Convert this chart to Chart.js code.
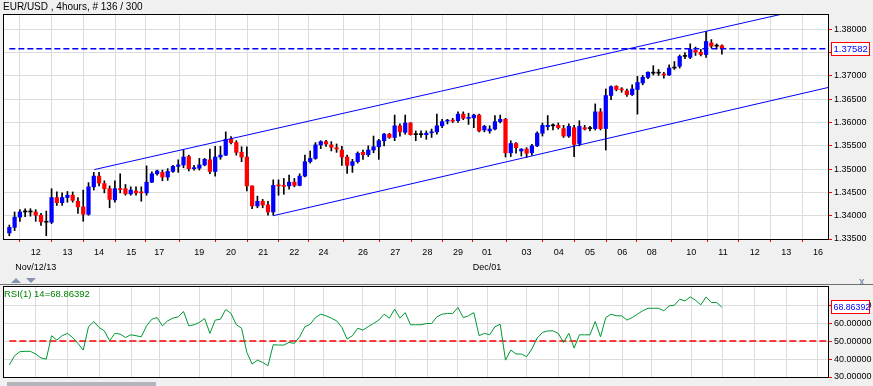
<!DOCTYPE html>
<html>
<head>
<meta charset="utf-8">
<script src="https://cdn.jsdelivr.net/npm/chart.js@4.4.0/dist/chart.umd.min.js"></script>
<style>
  html, body { margin: 0; padding: 0; background: #f0f0f0; }
  body { width: 873px; height: 386px; position: relative; overflow: hidden; font-family: "Liberation Sans", Arial, sans-serif; }
  #title { position: absolute; left: 3px; top: 0; font-size: 10px; line-height: 13px; color: #000; white-space: nowrap; }
  #mainWrap { position: absolute; left: 0; top: 0; width: 873px; height: 283px; }
  #rsiWrap { position: absolute; left: 0; top: 283px; width: 873px; height: 103px; }
  #rsiTitle { position: absolute; left: 4px; top: 288px; font-size: 9.5px; line-height: 11px; color: #008000; white-space: nowrap; }
  #sep { position: absolute; left: 0; top: 284px; width: 873px; height: 1px; background: #707070; }
  .tri { position: absolute; width: 0; height: 0; border-left: 5px solid transparent; border-right: 5px solid transparent; }
  #up { left: 11px; top: 278px; border-bottom: 5px solid #8593b0; }
  #down { left: 26px; top: 278px; border-top: 5px solid #8593b0; }
  #close { position: absolute; left: 859px; top: 276px; font-size: 10px; font-weight: bold; color: #8593b0; }
  #scroll { position: absolute; left: 7px; top: 382px; width: 149px; height: 4px; background: #b4b4bc; }
</style>
</head>
<body>
<div id="mainWrap"><canvas id="mainChart" width="873" height="283"></canvas></div>
<div id="title">EUR/USD , 4hours, # 136 / 300</div>
<div class="tri" id="up"></div>
<div class="tri" id="down"></div>
<div id="close">x</div>
<div id="sep"></div>
<div id="rsiWrap"><canvas id="rsiChart" width="873" height="103"></canvas></div>
<div id="rsiTitle">RSI(1) 14=68.86392</div>
<div id="scroll"></div>
<script>
// 4-hour EUR/USD bars
const candleOpen = [1.3363,1.3375,1.3397,1.3408,1.3408,1.3408,1.3401,1.3386,1.3386,1.3439,1.3428,1.3439,1.3444,1.3431,1.3419,1.3403,1.3462,1.3485,1.3469,1.3458,
  1.3434,1.3458,1.3458,1.3447,1.3453,1.3451,1.3449,1.3472,1.3490,1.3493,1.3483,1.3495,1.3506,1.3509,1.3527,1.3501,1.3502,1.3509,1.3520,1.3495,
  1.3526,1.3530,1.3564,1.3557,1.3536,1.3526,1.3464,1.3421,1.3431,1.3423,1.3408,1.3465,1.3465,1.3464,1.3472,1.3465,1.3485,1.3516,1.3523,1.3552,
  1.3559,1.3552,1.3546,1.3541,1.3526,1.3508,1.3516,1.3536,1.3531,1.3541,1.3548,1.3561,1.3575,1.3568,1.3593,1.3579,1.3599,1.3574,1.3574,1.3574,
  1.3578,1.3580,1.3593,1.3603,1.3605,1.3604,1.3618,1.3609,1.3610,1.3616,1.3584,1.3582,1.3586,1.3602,1.3607,1.3535,1.3555,1.3539,1.3543,1.3535,
  1.3550,1.3577,1.3591,1.3593,1.3594,1.3587,1.3571,1.3589,1.3555,1.3589,1.3587,1.3587,1.3623,1.3587,1.3658,1.3678,1.3672,1.3668,1.3660,1.3671,
  1.3685,1.3697,1.3706,1.3706,1.3704,1.3702,1.3717,1.3721,1.3742,1.3740,1.3755,1.3751,1.3746,1.3771,1.3764,1.3765];
const candleHigh = [1.3380,1.3408,1.3413,1.3415,1.3415,1.3413,1.3405,1.3410,1.3458,1.3451,1.3449,1.3452,1.3451,1.3439,1.3455,1.3471,1.3493,1.3493,1.3475,1.3464,
  1.3475,1.3490,1.3467,1.3462,1.3462,1.3462,1.3507,1.3494,1.3498,1.3498,1.3501,1.3508,1.3520,1.3541,1.3530,1.3508,1.3523,1.3523,1.3543,1.3549,
  1.3549,1.3580,1.3570,1.3561,1.3548,1.3548,1.3464,1.3442,1.3435,1.3431,1.3477,1.3477,1.3480,1.3487,1.3480,1.3490,1.3530,1.3539,1.3557,1.3561,
  1.3562,1.3559,1.3554,1.3549,1.3530,1.3521,1.3537,1.3541,1.3550,1.3571,1.3564,1.3577,1.3577,1.3616,1.3597,1.3616,1.3600,1.3582,1.3582,1.3582,
  1.3586,1.3618,1.3607,1.3607,1.3609,1.3623,1.3623,1.3620,1.3618,1.3618,1.3594,1.3593,1.3615,1.3616,1.3609,1.3561,1.3557,1.3544,1.3546,1.3553,
  1.3580,1.3599,1.3615,1.3597,1.3599,1.3594,1.3597,1.3594,1.3604,1.3594,1.3592,1.3640,1.3630,1.3672,1.3679,1.3679,1.3675,1.3672,1.3681,1.3699,
  1.3701,1.3709,1.3722,1.3714,1.3708,1.3724,1.3731,1.3745,1.3750,1.3769,1.3762,1.3757,1.3796,1.3778,1.3769,1.3767];
const candleLow = [1.3357,1.3368,1.3388,1.3398,1.3399,1.3388,1.3379,1.3357,1.3383,1.3422,1.3422,1.3429,1.3429,1.3405,1.3388,1.3401,1.3455,1.3464,1.3449,1.3417,
  1.3429,1.3449,1.3444,1.3444,1.3444,1.3431,1.3444,1.3471,1.3487,1.3475,1.3476,1.3493,1.3493,1.3503,1.3496,1.3498,1.3498,1.3507,1.3490,1.3485,
  1.3521,1.3529,1.3554,1.3530,1.3516,1.3453,1.3415,1.3417,1.3417,1.3401,1.3401,1.3444,1.3446,1.3457,1.3462,1.3464,1.3483,1.3513,1.3521,1.3544,
  1.3549,1.3539,1.3536,1.3508,1.3491,1.3493,1.3513,1.3521,1.3527,1.3535,1.3521,1.3550,1.3566,1.3561,1.3571,1.3575,1.3573,1.3561,1.3568,1.3564,
  1.3568,1.3575,1.3589,1.3597,1.3600,1.3600,1.3606,1.3596,1.3589,1.3580,1.3580,1.3577,1.3584,1.3599,1.3526,1.3527,1.3534,1.3528,1.3525,1.3530,
  1.3548,1.3571,1.3584,1.3584,1.3586,1.3568,1.3568,1.3527,1.3550,1.3584,1.3582,1.3584,1.3584,1.3541,1.3649,1.3668,1.3665,1.3656,1.3658,1.3618,
  1.3681,1.3694,1.3702,1.3701,1.3695,1.3701,1.3714,1.3717,1.3737,1.3737,1.3744,1.3743,1.3740,1.3760,1.3758,1.3747];
const candleClose = [1.3375,1.3397,1.3408,1.3408,1.3408,1.3401,1.3387,1.3386,1.3439,1.3428,1.3439,1.3444,1.3433,1.3419,1.3403,1.3462,1.3485,1.3470,1.3458,1.3435,
  1.3458,1.3456,1.3447,1.3455,1.3449,1.3449,1.3472,1.3490,1.3496,1.3483,1.3495,1.3506,1.3509,1.3526,1.3501,1.3503,1.3509,1.3521,1.3495,1.3526,
  1.3530,1.3564,1.3557,1.3536,1.3526,1.3464,1.3421,1.3431,1.3423,1.3408,1.3465,1.3464,1.3463,1.3472,1.3465,1.3485,1.3516,1.3523,1.3552,1.3559,
  1.3554,1.3547,1.3543,1.3526,1.3508,1.3516,1.3534,1.3531,1.3541,1.3548,1.3561,1.3575,1.3568,1.3593,1.3580,1.3599,1.3574,1.3574,1.3574,1.3577,
  1.3580,1.3593,1.3602,1.3604,1.3603,1.3618,1.3609,1.3610,1.3616,1.3582,1.3592,1.3586,1.3602,1.3607,1.3535,1.3555,1.3546,1.3543,1.3534,1.3550,
  1.3577,1.3594,1.3594,1.3593,1.3589,1.3571,1.3592,1.3553,1.3592,1.3586,1.3587,1.3623,1.3587,1.3658,1.3677,1.3671,1.3670,1.3660,1.3672,1.3686,
  1.3697,1.3708,1.3706,1.3706,1.3702,1.3717,1.3717,1.3742,1.3742,1.3757,1.3751,1.3746,1.3774,1.3764,1.3764,1.37582];
// RSI(14) per bar
const rsiValues = [36.7,41.9,44.1,44.3,44.3,42.8,40.6,40.0,53.0,50.6,53.0,54.3,52.0,48.7,45.0,58.0,60.9,57.6,55.7,50.2,
  54.3,53.9,52.0,53.5,53.0,52.4,58.5,62.2,63.1,58.5,61.3,62.8,63.5,66.5,58.5,59.1,60.4,62.6,54.3,61.7,
  62.2,67.6,65.4,59.1,57.2,43.7,37.2,39.4,38.1,36.3,48.0,47.8,47.8,49.3,48.7,52.4,58.0,59.4,63.1,65.0,
  64.1,62.8,61.3,57.6,51.1,53.0,57.2,56.1,58.1,59.8,61.7,65.0,62.8,67.8,62.8,65.9,59.1,59.1,59.1,59.8,
  59.8,63.5,65.0,65.4,65.4,68.7,63.1,64.1,65.9,53.0,54.3,53.5,58.0,59.4,39.4,45.0,42.8,42.8,41.3,45.6,
  51.7,54.8,55.7,55.7,54.3,49.3,54.3,46.1,53.5,53.5,53.5,60.9,52.4,63.1,65.0,64.1,64.1,61.7,63.1,65.0,
  66.9,68.3,68.3,68.3,66.9,69.6,70.0,73.3,72.4,74.6,72.8,70.2,74.6,71.5,71.5,68.86392];

// day ticks: label and bar position where the day starts
const dayLabels = ['12','13','14','15','17','19','20','21','22','24','26','27','28','29','01','03','04','05','06','08','10','11','12','13','16'];
const dayStartBar = [5,11,17,23.1,28.4,36,42,48.1,54,59.5,67,73.1,79.2,85,90.5,98,104.1,110,116.1,121.7,129.2,135.2,141.2,147.2,153.2];
const monthLabels = { 0: 'Nov/12/13', 14: 'Dec/01' };

const priceTicks = [1.335, 1.340, 1.345, 1.350, 1.355, 1.360, 1.365, 1.370, 1.375, 1.380];
const rsiTicks = [30, 40, 50, 60, 70];
const lastPrice = 1.37582;
const lastRsi = 68.86392;
const rsiMid = 50;

// channel lines as [bar, price] anchors
const upperChannel = [[16.1, 1.3499], [150, 1.3842]];
const lowerChannel = [[50, 1.3400], [160, 1.3688]];

const xMin = -1.2, xMax = 155.1;
const FONT = { family: 'Liberation Sans', size: 9 };

const bars = candleOpen.map((o, i) => i);
const bodyColors = bars.map(i => candleClose[i] > candleOpen[i] ? '#0000ff' : (candleClose[i] < candleOpen[i] ? '#ff0000' : '#000000'));

const plotFrame = {
    id: 'plotFrame',
    beforeDraw(chart) {
        const a = chart.chartArea, ctx = chart.ctx;
        ctx.save();
        ctx.fillStyle = '#ffffff';
        ctx.fillRect(a.left, a.top, a.right - a.left, a.bottom - a.top);
        ctx.restore();
    },
    afterDraw(chart) {
        const a = chart.chartArea, ctx = chart.ctx;
        ctx.save();
        ctx.strokeStyle = '#000000';
        ctx.lineWidth = 1;
        ctx.strokeRect(a.left + 0.5, a.top + 0.5, a.right - a.left, a.bottom - a.top);
        // value box on the right axis
        const opts = chart.options.plugins.plotFrame;
        if (opts && opts.value !== undefined) {
            const y = Math.round(chart.scales.y.getPixelForValue(opts.value));
            ctx.fillStyle = '#ffffff';
            ctx.fillRect(831, y - 7, 39, 14);
            ctx.strokeStyle = '#ff0000';
            ctx.strokeRect(831.5, y - 6.5, 38, 13);
            ctx.fillStyle = '#0000ff';
            ctx.font = opts.fontSize + 'px "Liberation Sans"';
            ctx.textBaseline = 'middle';
            ctx.fillText(opts.text, 833.5, y + 0.5);
        }
        ctx.restore();
    }
};

function xScale(showTicks) {
    return {
        type: 'linear',
        min: xMin,
        max: xMax,
        offset: false,
        border: { display: false },
        grid: { color: '#dcdcdc', tickColor: '#ff0000', tickLength: showTicks ? 3 : 0, drawTicks: showTicks },
        afterBuildTicks: s => { s.ticks = dayStartBar.map(v => ({ value: v })); },
        afterFit: s => { s.height = showTicks ? 44 : 0; },
        ticks: {
            display: showTicks,
            autoSkip: false,
            maxRotation: 0,
            padding: 3,
            color: '#000000',
            font: { family: 'Liberation Sans', size: 9, lineHeight: 1.7 },
            callback: (v, i) => monthLabels[i] ? [dayLabels[i], monthLabels[i]] : dayLabels[i]
        }
    };
}

function yScale(min, max, tickList) {
    return {
        position: 'right',
        min: min,
        max: max,
        border: { display: false },
        grid: { color: '#dcdcdc', tickColor: '#ff0000', tickLength: 4 },
        afterBuildTicks: s => { s.ticks = tickList.map(v => ({ value: v })); },
        afterFit: s => { s.width = 45; s.paddingTop = 0; s.paddingBottom = 0; },
        ticks: { padding: 2, color: '#000000', font: FONT, callback: v => v.toFixed(5) }
    };
}

new Chart(document.getElementById('mainChart'), {
    type: 'bar',
    data: {
        datasets: [
            {
                type: 'line', order: 0,
                data: upperChannel.map(p => ({ x: p[0], y: p[1] })),
                borderColor: '#0000ff', borderWidth: 1, pointRadius: 0
            },
            {
                type: 'line', order: 0,
                data: lowerChannel.map(p => ({ x: p[0], y: p[1] })),
                borderColor: '#0000ff', borderWidth: 1, pointRadius: 0
            },
            {
                type: 'line', order: 0,
                data: [{ x: 0, y: lastPrice }, { x: xMax, y: lastPrice }],
                borderColor: '#0000ff', borderWidth: 1.5, borderDash: [6, 3], pointRadius: 0
            },
            {
                order: 1,
                data: bars.map(i => ({ x: i, y: [candleOpen[i], candleClose[i]] })),
                backgroundColor: bodyColors,
                barThickness: 3.6, minBarLength: 1, grouped: false, borderWidth: 0
            },
            {
                order: 2,
                data: bars.map(i => ({ x: i, y: [candleLow[i], candleHigh[i]] })),
                backgroundColor: '#000000',
                barThickness: 1, grouped: false, borderWidth: 0
            }
        ]
    },
    options: {
        responsive: false,
        animation: false,
        devicePixelRatio: 1,
        layout: { padding: { left: 3, top: 14, right: 0, bottom: 0 } },
        plugins: {
            legend: { display: false },
            tooltip: { enabled: false },
            plotFrame: { value: lastPrice, text: lastPrice.toFixed(5), fontSize: 9.5 }
        },
        scales: {
            x: xScale(true),
            y: yScale(1.335, 1.3833, priceTicks)
        }
    },
    plugins: [plotFrame]
});

new Chart(document.getElementById('rsiChart'), {
    type: 'line',
    data: {
        datasets: [
            {
                order: 0,
                data: bars.map(i => ({ x: i, y: rsiValues[i] })),
                borderColor: '#009933', borderWidth: 1, pointRadius: 0, tension: 0
            },
            {
                order: 1,
                data: [{ x: 0, y: rsiMid }, { x: xMax, y: rsiMid }],
                borderColor: '#ff0000', borderWidth: 1.5, borderDash: [7, 3], pointRadius: 0
            }
        ]
    },
    options: {
        responsive: false,
        animation: false,
        devicePixelRatio: 1,
        layout: { padding: { left: 3, top: 3, right: 0, bottom: 9 } },
        plugins: {
            legend: { display: false },
            tooltip: { enabled: false },
            plotFrame: { value: lastRsi, text: lastRsi.toFixed(5), fontSize: 8.8 }
        },
        scales: {
            x: xScale(false),
            y: yScale(30, 80.7, rsiTicks)
        }
    },
    plugins: [plotFrame]
});
</script>
</body>
</html>
